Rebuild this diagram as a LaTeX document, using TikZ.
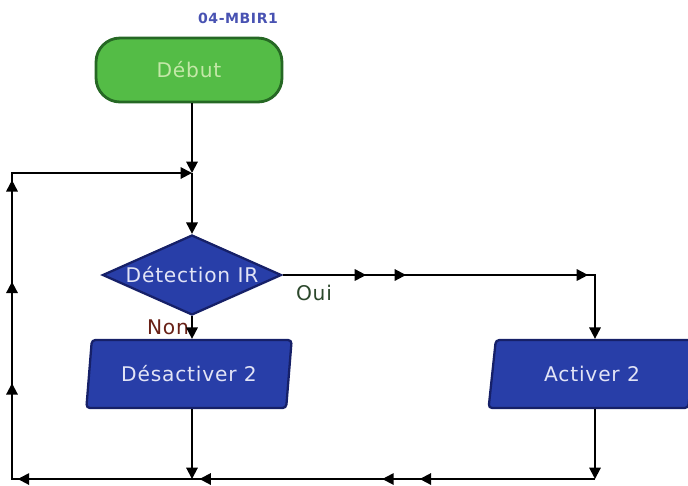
\documentclass[tikz,border=0pt]{standalone}
\usepackage{fontspec}
\setmainfont{DejaVu Sans}
\newfontfamily\flowfont[LetterSpace=4]{DejaVu Sans}
\usetikzlibrary{arrows.meta, shapes.geometric, decorations.markings}

\definecolor{startfill}{RGB}{84,188,70}
\definecolor{startline}{RGB}{38,104,36}
\definecolor{starttext}{RGB}{196,232,168}
\definecolor{stepfill}{RGB}{40,62,168}
\definecolor{stepline}{RGB}{22,32,104}
\definecolor{steptext}{RGB}{226,228,246}
\definecolor{titleblue}{RGB}{72,82,178}
\definecolor{ouigreen}{RGB}{44,72,44}
\definecolor{nonred}{RGB}{104,32,22}

\newcommand{\flowsize}{\flowfont\fontsize{11.5pt}{13pt}\selectfont}

\begin{document}
\begin{tikzpicture}[
x=0.02cm, y=-0.02cm,
>={Triangle[length=6.5pt, width=6.5pt]},
begin/.style={rectangle, rounded corners=0.48cm, draw=startline, line width=1.6pt,
fill=startfill, minimum width=3.72cm, minimum height=1.28cm, text=starttext, font=\flowsize},
test/.style={diamond, aspect=2.24, draw=stepline, line width=1.3pt, fill=stepfill, inner sep=0pt,
minimum width=3.58cm, minimum height=1.6cm, text=steptext, font=\flowsize},
action/.style={trapezium, trapezium left angle=81.6, trapezium right angle=98.4,
trapezium stretches=true, rounded corners=2pt, draw=stepline, line width=1.3pt,
fill=stepfill, minimum width=4.14cm, minimum height=1.36cm, text=steptext, font=\flowsize},
tag/.style={font=\flowsize},
link/.style={line width=1.1pt},
tip/.style={postaction={decorate, decoration={markings,
mark=at position #1 with {\arrow{>}}}}}
]
\useasboundingbox (0,0) rectangle (688,485);

% blocks
\node[font=\flowfont\bfseries\fontsize{8pt}{9pt}\selectfont, text=titleblue] (title) at (238,18) {04-MBIR1};
\node[begin] (start) at (189,70) {Début};
\node[test] (dec) at (192,275) {Détection IR};
\node[action] (desact) at (189,374) {Désactiver 2};
\node[action] (act) at (592,374) {Activer 2};
\node[tag, text=ouigreen] (oui) at (314,293) {Oui};
\node[tag, text=nonred] (non) at (168,327) {Non};

% junction points of the loop
\coordinate (j1) at (192,173);
\coordinate (lt) at (12,173);
\coordinate (lb) at (12,479);
\coordinate (jb) at (192,479);
\coordinate (rb) at (595,479);
\coordinate (rt) at (595,275);

% main flow
\draw[link, ->] (j1 |- start.south) -- (j1);
\draw[link, ->] (j1) -- (dec.north);
\draw[link, ->] (dec.south) -- (dec.south |- desact.north);
\draw[link, ->, tip=0.222, tip=0.328, tip=0.812] (dec.east) -- (rt) -- (rt |- act.north);

% back to the top
\draw[link, ->] (jb |- desact.south) -- (jb);
\draw[link, ->] (rb |- act.south) -- (rb);
\draw[link, ->, tip=0.164, tip=0.199, tip=0.370, tip=0.540, tip=0.635, tip=0.730, tip=0.825]
(rb) -- (lb) -- (lt) -- (j1);
\end{tikzpicture}
\end{document}
